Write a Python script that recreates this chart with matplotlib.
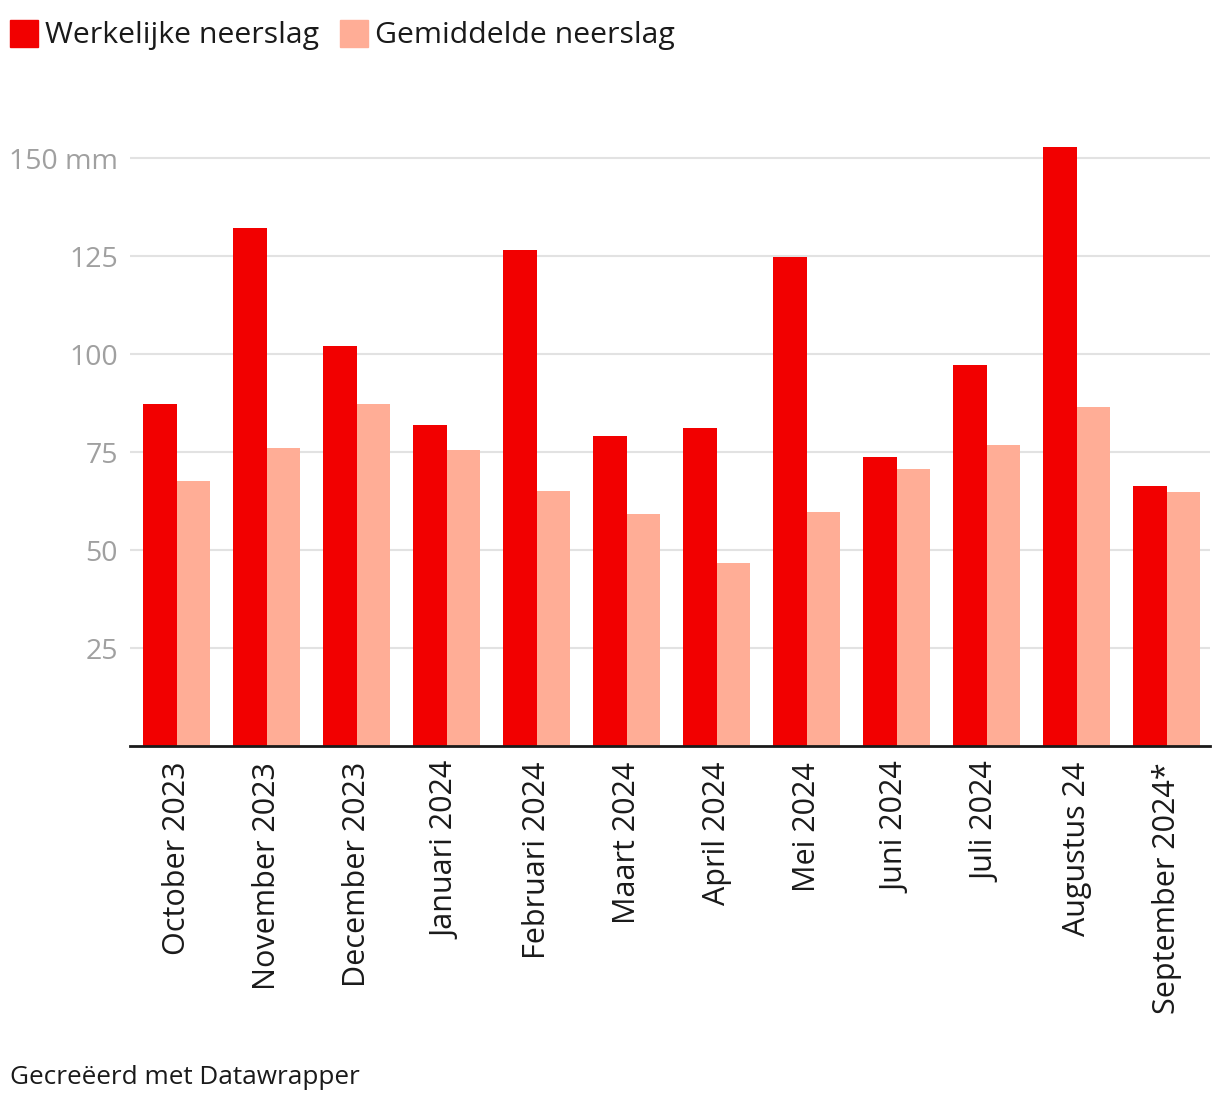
import matplotlib
matplotlib.use("Agg")
import matplotlib.pyplot as plt
from matplotlib.patches import Rectangle
import numpy as np

plt.rcParams['font.family'] = ['Open Sans', 'DejaVu Sans']

categories = ["October 2023", "November 2023", "December 2023", "Januari 2024",
              "Februari 2024", "Maart 2024", "April 2024", "Mei 2024",
              "Juni 2024", "Juli 2024", "Augustus 24", "September 2024*"]
werkelijk = [87.2, 132.1, 102.0, 81.9, 126.5, 79.1, 81.1, 124.7, 73.7, 97.2, 152.8, 66.3]
gemiddeld = [67.6, 76.0, 87.2, 75.5, 65.1, 59.2, 46.7, 59.7, 70.7, 76.8, 86.5, 64.8]
yticks = [25, 50, 75, 100, 125, 150]
ytick_labels = ["25", "50", "75", "100", "125", "150 mm"]
series_names = ["Werkelijke neerslag", "Gemiddelde neerslag"]
colors = ["#f20000", "#ffad96"]

W, H = 1220, 1106
fig = plt.figure(figsize=(W/100, H/100), dpi=100)
ax = fig.add_axes([130/W, 1 - 746/H, (1210-130)/W, (746-130.6)/H])

x = np.arange(len(categories))
bw = 0.372
ax.bar(x - bw/2, werkelijk, width=bw, color=colors[0], zorder=3)
ax.bar(x + bw/2, gemiddeld, width=bw, color=colors[1], zorder=3)

ax.set_xlim(-0.517, 11.483)
ax.set_ylim(0, 157)
ax.set_yticks(yticks)
ax.set_yticklabels(ytick_labels)
ax.yaxis.grid(True, color="#e2e2e2", linewidth=1.5, zorder=0)
ax.tick_params(axis='y', length=0, pad=8.6, labelsize=20.5, labelcolor="#a0a0a0")
ax.set_xticks(x)
ax.set_xticklabels(categories, rotation=90, fontsize=22, color="#1a1a1a", va='top', ha='center')
ax.tick_params(axis='x', length=0, pad=11.5)
for s in ["top", "right", "left"]:
    ax.spines[s].set_visible(False)
ax.spines["bottom"].set_color("#1a1a1a")
ax.spines["bottom"].set_linewidth(2)
ax.spines["bottom"].set_zorder(4)

# legend
fig.patches.append(Rectangle((10/W, 1 - 47/H), 28/W, 27/H, transform=fig.transFigure, color=colors[0]))
fig.text(45/W, 1 - 36/H, series_names[0], fontsize=21.8, color="#1a1a1a", va='center', ha='left')
fig.patches.append(Rectangle((340/W, 1 - 47/H), 28/W, 27/H, transform=fig.transFigure, color=colors[1]))
fig.text(375/W, 1 - 36/H, series_names[1], fontsize=21.8, color="#1a1a1a", va='center', ha='left')

fig.text(10/W, 1 - 1077/H, "Gecreëerd met Datawrapper", fontsize=18.8, color="#1a1a1a", va='center', ha='left')

fig.savefig("out.png", dpi=100)
